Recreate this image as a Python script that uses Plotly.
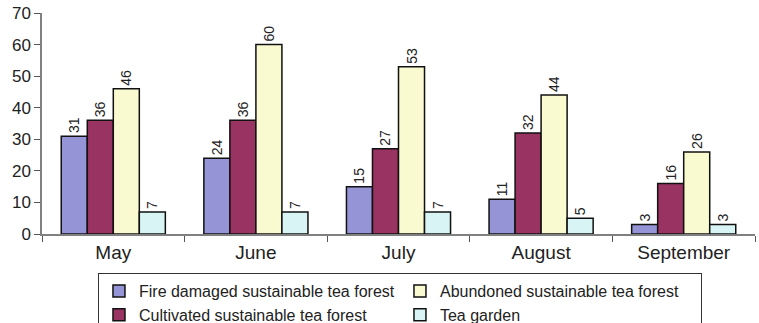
import plotly.graph_objects as go

months = ["May", "June", "July", "August", "September"]
fire_damaged = [31, 24, 15, 11, 3]
cultivated = [36, 36, 27, 32, 16]
abandoned = [46, 60, 53, 44, 26]
tea_garden = [7, 7, 7, 5, 3]

series = [
    ("Fire damaged sustainable tea forest", fire_damaged, "#9494d6", 1),
    ("Cultivated sustainable tea forest", cultivated, "#993362", 3),
    ("Abundoned sustainable tea forest", abandoned, "#fafad0", 2),
    ("Tea garden", tea_garden, "#d8f4f4", 4),
]

font = "Liberation Sans, Arial, sans-serif"

fig = go.Figure()
for name, vals, color, rank in series:
    fig.add_trace(go.Bar(
        x=months, y=vals, name=name, legendrank=rank,
        marker=dict(color=color, line=dict(color="#111111", width=1.5)),
        text=[str(v) for v in vals], textposition="outside", textangle=-90,
        textfont=dict(family=font, size=14, color="#222222"),
        cliponaxis=False,
    ))

fig.update_layout(
    width=759, height=323,
    margin=dict(l=42, r=4, t=13, b=89, autoexpand=False),
    paper_bgcolor="white", plot_bgcolor="white",
    barmode="group", bargap=0.27, bargroupgap=0,
    font=dict(family=font, color="#222222"),
    showlegend=True,
    legend=dict(
        orientation="h", x=0.0785, y=-0.1765, xanchor="left", yanchor="top",
        entrywidth=256, entrywidthmode="pixels",
        bordercolor="#333333", borderwidth=1,
        font=dict(family=font, size=16, color="#222222"),
        traceorder="normal", itemwidth=30,
        tracegroupgap=0,
    ),
)
fig.update_xaxes(
    showline=True, linecolor="#808080", linewidth=1.5,
    ticks="outside", tickson="boundaries", ticklen=6, tickcolor="#555555",
    tickfont=dict(family=font, size=19, color="#222222"),
    showgrid=False,
)
fig.update_yaxes(
    range=[0, 70], dtick=10,
    showline=True, linecolor="#808080", linewidth=1.5,
    ticks="outside", ticklen=6, tickcolor="#555555",
    tickfont=dict(family=font, size=17, color="#222222"),
    showgrid=False, zeroline=False,
)

fig.write_html("out.html")
